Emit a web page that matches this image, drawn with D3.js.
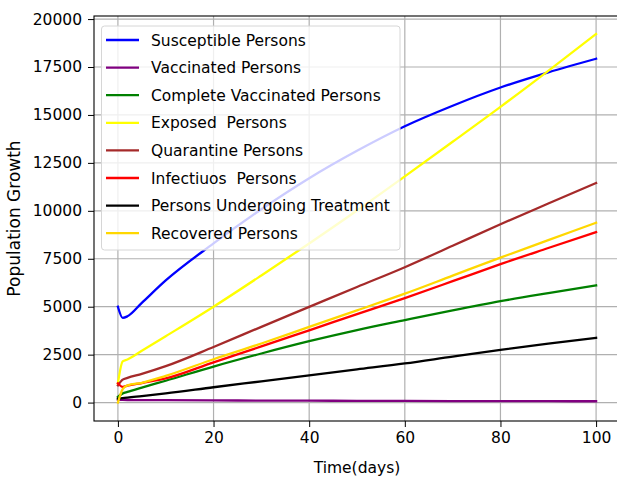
<!DOCTYPE html>
<html><head><meta charset="utf-8">
<script src="https://cdn.jsdelivr.net/npm/d3@7"></script>
<style>
body{margin:0;background:#fff;overflow:hidden}
svg{display:block;font-family:"DejaVu Sans",sans-serif}
</style>
</head><body>
<svg id="chart" width="617" height="477"></svg>
<script>
// ---- data ----
const days        = [0, 1, 2, 5, 10, 20, 30, 40, 50, 60, 70, 80, 90, 100];
const susceptible = [5000, 4420, 4500, 5200, 6370, 8300, 10080, 11700, 13130, 14410, 15480, 16430, 17220, 17930];
const vaccinated  = [150, 140, 135, 130, 125, 115, 105, 100, 92, 85, 80, 75, 72, 70];
const completeVac = [300, 480, 560, 780, 1140, 1880, 2560, 3200, 3780, 4300, 4810, 5290, 5710, 6110];
const exposed     = [1000, 2150, 2250, 2700, 3460, 5000, 6630, 8300, 10020, 11800, 13600, 15420, 17300, 19220];
const quarantine  = [900, 1200, 1290, 1500, 1900, 2900, 3950, 4990, 6030, 7060, 8180, 9300, 10380, 11450];
const infectious  = [1000, 820, 880, 1020, 1260, 2100, 2930, 3770, 4610, 5450, 6330, 7220, 8060, 8890];
const treatment   = [200, 230, 260, 340, 480, 800, 1110, 1420, 1730, 2040, 2400, 2750, 3070, 3380];
const recovered   = [0, 700, 900, 1030, 1390, 2260, 3080, 3950, 4810, 5680, 6620, 7560, 8470, 9380];

const seriesNames  = ["Susceptible Persons", "Vaccinated Persons", "Complete Vaccinated Persons",
                      "Exposed  Persons", "Quarantine Persons", "Infectiuos  Persons",
                      "Persons Undergoing Treatment", "Recovered Persons"];
const seriesValues = [susceptible, vaccinated, completeVac, exposed, quarantine, infectious, treatment, recovered];
const seriesColors = ["blue", "purple", "green", "yellow", "brown", "red", "black", "gold"];

const xTicks = [0, 20, 40, 60, 80, 100];
const yTicks = [0, 2500, 5000, 7500, 10000, 12500, 15000, 17500, 20000];
const xLabel = "Time(days)";
const yLabel = "Population Growth";

// ---- layout ----
const svg = d3.select("#chart");
const m = {left: 94, top: 16, right: 620, bottom: 421};
const x = d3.scaleLinear().domain([-5, 105]).range([m.left, m.right]);
const y = d3.scaleLinear().domain([-960, 20160]).range([m.bottom, m.top]);
const fs = 15.5;

svg.append("defs").append("clipPath").attr("id", "clip")
  .append("rect").attr("x", m.left).attr("y", m.top)
  .attr("width", m.right - m.left).attr("height", m.bottom - m.top);

// grid
const grid = svg.append("g").attr("stroke", "#b0b0b0").attr("stroke-width", 1.2);
grid.selectAll(".gx").data(xTicks).join("line")
  .attr("x1", d => x(d)).attr("x2", d => x(d)).attr("y1", m.top).attr("y2", m.bottom);
grid.selectAll(".gy").data(yTicks).join("line")
  .attr("x1", m.left).attr("x2", m.right).attr("y1", d => y(d)).attr("y2", d => y(d));

// lines
const line = d3.line().x((d, i) => x(days[i])).y(d => y(d)).curve(d3.curveMonotoneX);
const lg = svg.append("g").attr("clip-path", "url(#clip)");
seriesValues.forEach((vals, k) => {
  lg.append("path").datum(vals).attr("d", line)
    .attr("fill", "none").attr("stroke", seriesColors[k]).attr("stroke-width", 2.3)
    .attr("stroke-linejoin", "round").attr("stroke-linecap", "square");
});

// axes
const xAxis = svg.append("g").attr("transform", `translate(0,${m.bottom})`)
  .call(d3.axisBottom(x).tickValues(xTicks).tickFormat(d3.format("d")).tickSize(6).tickPadding(5));
const yAxis = svg.append("g").attr("transform", `translate(${m.left},0)`)
  .call(d3.axisLeft(y).tickValues(yTicks).tickFormat(d3.format("d")).tickSize(6).tickPadding(6));
[xAxis, yAxis].forEach(a => {
  a.select(".domain").remove();
  a.selectAll("text").attr("font-size", fs).attr("font-family", "DejaVu Sans").attr("fill", "#000");
  a.selectAll("line").attr("stroke", "#000").attr("stroke-width", 1);
});

// spines
svg.append("rect").attr("x", m.left).attr("y", m.top)
  .attr("width", m.right - m.left).attr("height", m.bottom - m.top)
  .attr("fill", "none").attr("stroke", "#000").attr("stroke-width", 1.1);

// axis labels
svg.append("text").attr("x", (m.left + m.right) / 2).attr("y", 473)
  .attr("text-anchor", "middle").attr("font-size", fs).text(xLabel);
svg.append("text").attr("transform", `translate(20,${(m.top + m.bottom) / 2}) rotate(-90)`)
  .attr("text-anchor", "middle").attr("font-size", 17).text(yLabel);

// legend
const leg = svg.append("g");
leg.append("rect").attr("x", 101.5).attr("y", 26).attr("width", 298.5).attr("height", 224)
  .attr("rx", 3).attr("fill", "#fff").attr("fill-opacity", 0.8)
  .attr("stroke", "#d6d6d6").attr("stroke-width", 1);
seriesNames.forEach((name, k) => {
  const yy = 40 + k * 27.6;
  leg.append("line").attr("x1", 106).attr("x2", 139).attr("y1", yy).attr("y2", yy)
    .attr("stroke", seriesColors[k]).attr("stroke-width", 2.3);
  leg.append("text").attr("x", 151).attr("y", yy + 5.5).attr("font-size", fs)
    .attr("fill", "#000").attr("xml:space", "preserve").style("white-space", "pre").text(name);
});
</script>
</body></html>
